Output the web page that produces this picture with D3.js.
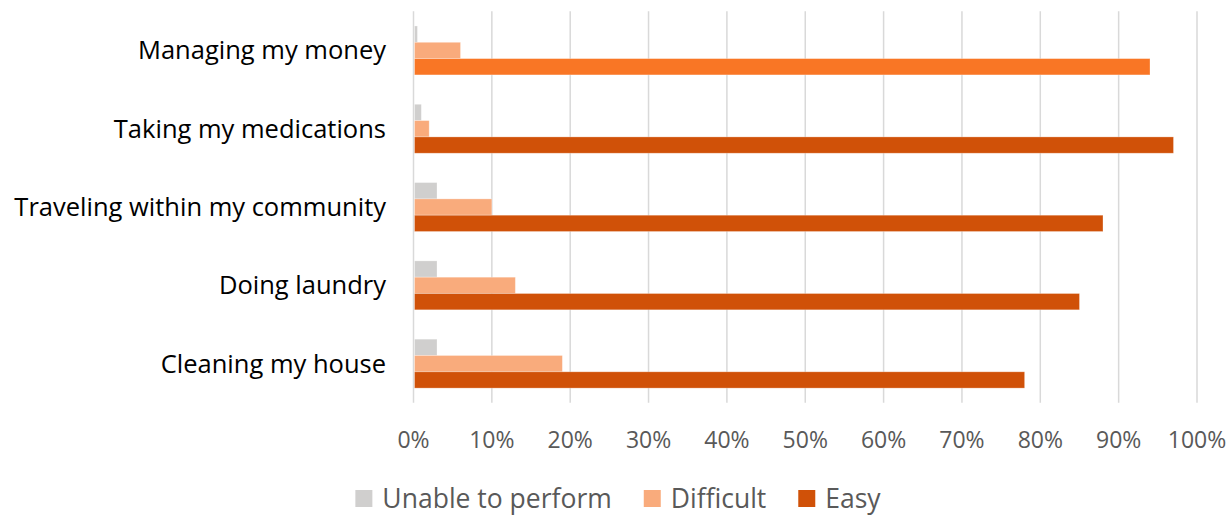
<!DOCTYPE html>
<html>
<head>
<meta charset="utf-8">
<script src="https://cdn.jsdelivr.net/npm/d3@7"></script>
<style>
  body { margin: 0; background: #fff; }
  text { font-family: "Open Sans", sans-serif; }
</style>
</head>
<body>
<div id="chart"></div>
<script>
const categories = ["Managing my money", "Taking my medications", "Traveling within my community", "Doing laundry", "Cleaning my house"];
const seriesNames = ["Unable to perform", "Difficult", "Easy"];
const unableValues = [0.5, 1, 3, 3, 3];
const difficultValues = [6, 2, 10, 13, 19];
const easyValues = [94, 97, 88, 85, 78];
const seriesColors = ["#d0cfce", "#f9ab7c", "#d05108"];
const highlightEasy = "#f97625"; // first row's Easy bar is brighter in the original
const ticks = [0, 10, 20, 30, 40, 50, 60, 70, 80, 90, 100];

const width = 1230, height = 516;
const svg = d3.select("#chart").append("svg")
  .attr("width", width)
  .attr("height", height);

const x = d3.scaleLinear().domain([0, 100]).range([413.5, 1197]);
const y = d3.scaleBand().domain(categories).range([11.3, 402.8]).paddingInner(0).paddingOuter(0);

// inner band for series; gap between groups is ~1.8 bar widths
const groupH = y.bandwidth() * 3 / 4.8;
const ySub = d3.scaleBand().domain(seriesNames)
  .range([(y.bandwidth() - groupH) / 2, (y.bandwidth() + groupH) / 2]);

// gridlines
svg.append("g")
  .selectAll("line")
  .data(ticks)
  .enter()
  .append("line")
  .attr("x1", d => x(d))
  .attr("x2", d => x(d))
  .attr("y1", y.range()[0])
  .attr("y2", y.range()[1])
  .attr("stroke", "#d9d9d9")
  .attr("stroke-width", 1.5);

const data = [unableValues, difficultValues, easyValues];

const rows = svg.append("g")
  .selectAll("g")
  .data(categories)
  .enter()
  .append("g")
  .attr("transform", d => `translate(0,${y(d)})`);

rows.selectAll("rect")
  .data((c, ci) => seriesNames.map((s, si) => ({ s: s, si: si, ci: ci, v: data[si][ci] })))
  .enter()
  .append("rect")
  .attr("x", x(0) + 1)
  .attr("y", d => ySub(d.s))
  .attr("width", d => x(d.v) - x(0) - 1)
  .attr("height", ySub.bandwidth())
  .attr("fill", d => (d.si === 2 && d.ci === 0) ? highlightEasy : seriesColors[d.si])
  .attr("stroke", "#ffffff")
  .attr("stroke-opacity", 0.35)
  .attr("stroke-width", 0.8);

// category labels
svg.append("g")
  .selectAll("text")
  .data(categories)
  .enter()
  .append("text")
  .text(d => d)
  .attr("x", 386)
  .attr("y", d => y(d) + y.bandwidth() / 2)
  .attr("dy", "0.35em")
  .attr("text-anchor", "end")
  .attr("font-size", 25.5)
  .attr("fill", "#000");

// x axis tick labels
svg.append("g")
  .selectAll("text")
  .data(ticks)
  .enter()
  .append("text")
  .text(d => d + "%")
  .attr("x", d => x(d))
  .attr("y", 440)
  .attr("dy", "0.35em")
  .attr("text-anchor", "middle")
  .attr("font-size", 23)
  .attr("fill", "#595959");

// legend
const legend = svg.append("g").attr("id", "legend");
const items = legend.selectAll("g")
  .data(seriesNames)
  .enter()
  .append("g");
items.append("rect")
  .attr("width", 17)
  .attr("height", 17)
  .attr("y", -8.5)
  .attr("fill", (d, i) => seriesColors[i]);
items.append("text")
  .text(d => d)
  .attr("x", 27)
  .attr("dy", "0.35em")
  .attr("font-size", 26.5)
  .attr("fill", "#595959");

let offset = 0;
const positions = [];
items.each(function(d) {
  positions.push(offset);
  const w = 27 + d3.select(this).select("text").node().getComputedTextLength();
  offset += w + 32;
});
const total = offset - 32;
const startX = 618 - total / 2;
items.attr("transform", (d, i) => `translate(${startX + positions[i]},${498.5})`);
</script>
</body>
</html>
